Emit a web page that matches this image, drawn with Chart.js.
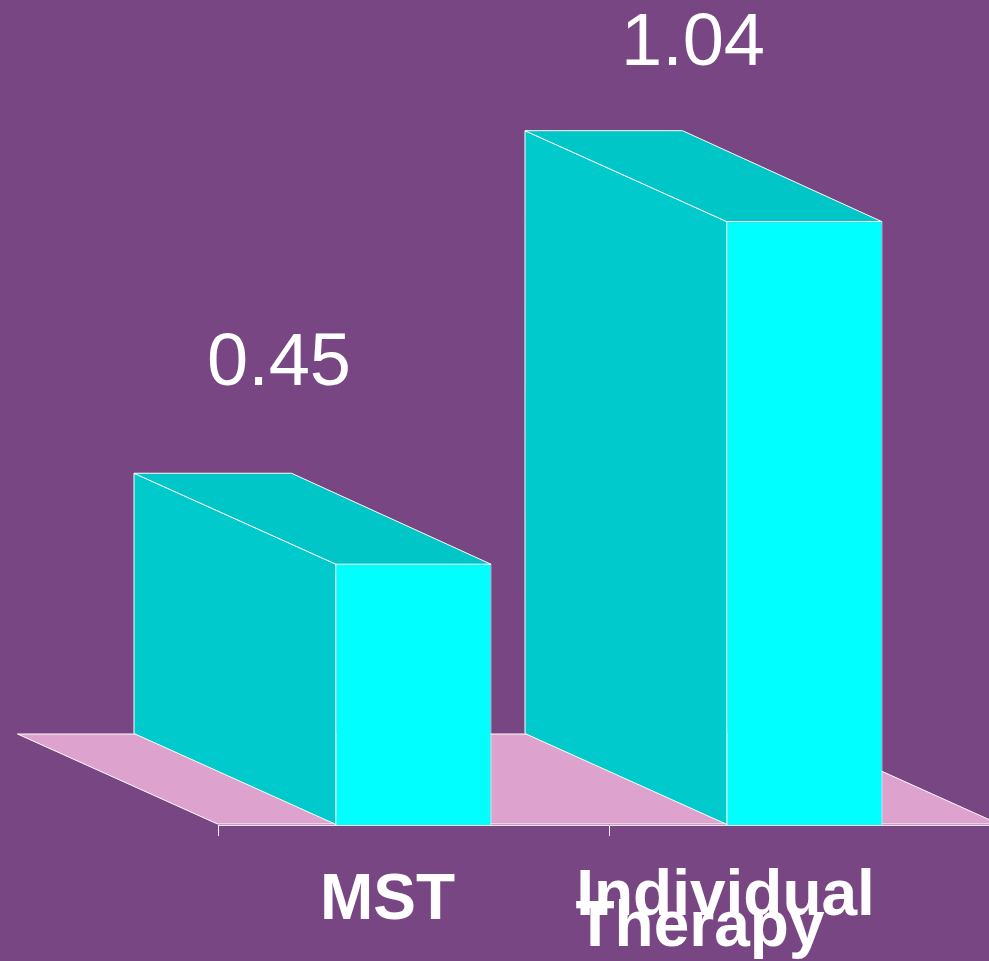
<!DOCTYPE html>
<html>
<head>
<meta charset="utf-8">
<style>
html,body{margin:0;padding:0;background:#784682;overflow:hidden}
#wrap{width:989px;height:961px;overflow:hidden}
canvas{display:block}
</style>
<script src="https://cdn.jsdelivr.net/npm/chart.js@4/dist/chart.umd.min.js"></script>
</head>
<body>
<div id="wrap"><canvas id="c" width="1000" height="961"></canvas></div>
<script>
const categories = ['MST', 'Individual Therapy'];
const effectSizes = [0.45, 1.04];
const categoryLines = [['MST'], ['Individual', 'Therapy']];

const BG = '#784682', FRONT = '#00FFFF', SIDE = '#00CACC', TOP = '#00C6C8', FLOOR = '#DDA2CE', EDGE = '#FFFFFF';
const SANS = '"Liberation Sans", Arial, sans-serif';
// oblique projection of the bars' depth
const BACK_L = {dx: -202, dy: -91}, BACK_R = {dx: -199.5, dy: -91};
const FLOOR_D = {dx: -200, dy: -90};
// label placement relative to the bar's front-top centre / baseline
const valueOffsets = [{dx: -134.5, dy: -178.5}, {dx: -111.5, dy: -156}];
const catPlacement = [[{dx: -26, y: 919}], [{dx: -79, y: 915}, {dx: -104.5, y: 946}]];

function poly(ctx, pts, fill, stroke) {
  ctx.beginPath();
  pts.forEach((p, i) => i ? ctx.lineTo(p[0], p[1]) : ctx.moveTo(p[0], p[1]));
  ctx.closePath();
  if (fill) { ctx.fillStyle = fill; ctx.fill(); }
  if (stroke) { ctx.strokeStyle = stroke; ctx.lineWidth = 1; ctx.stroke(); }
}

const box3d = {
  id: 'box3d',
  beforeDraw(chart) {
    const {ctx, width, height} = chart;
    ctx.save(); ctx.fillStyle = BG; ctx.fillRect(0, 0, width, height); ctx.restore();
  },
  beforeDatasetsDraw(chart) {
    const {ctx, chartArea: a, scales} = chart;
    const yb = scales.y.getPixelForValue(0) - 1, xl = a.left - 0.5, xr = a.right - 1;
    ctx.save();
    // floor
    poly(ctx, [[xl, yb], [xl + FLOOR_D.dx, yb + FLOOR_D.dy], [xr + FLOOR_D.dx, yb + FLOOR_D.dy], [xr, yb]], FLOOR, EDGE);
    // side and top faces
    chart.getDatasetMeta(0).data.forEach(bar => {
      const l = bar.x - bar.width / 2 + 0.5, r = bar.x + bar.width / 2 - 0.5, t = bar.y + 0.5, b = bar.base - 0.5;
      poly(ctx, [[l, t], [l + BACK_L.dx, t + BACK_L.dy], [l + BACK_L.dx, b + BACK_L.dy], [l, b]], SIDE, EDGE);
      poly(ctx, [[l, t], [l + BACK_L.dx, t + BACK_L.dy], [r + BACK_R.dx, t + BACK_R.dy], [r, t]], TOP, EDGE);
    });
    ctx.restore();
  },
  afterDraw(chart) {
    const {ctx} = chart;
    const bars = chart.getDatasetMeta(0).data;
    ctx.save();
    ctx.fillStyle = '#FFFFFF';
    ctx.textAlign = 'center';
    ctx.textBaseline = 'alphabetic';
    ctx.font = '74px ' + SANS;
    bars.forEach((bar, i) => {
      ctx.fillText(effectSizes[i].toFixed(2), bar.x + valueOffsets[i].dx, bar.y + valueOffsets[i].dy);
    });
    ctx.font = 'bold 64px ' + SANS;
    bars.forEach((bar, i) => {
      categoryLines[i].forEach((line, j) => {
        const p = catPlacement[i][j];
        ctx.fillText(line, bar.x + p.dx, p.y);
      });
    });
    ctx.restore();
  }
};

new Chart(document.getElementById('c'), {
  type: 'bar',
  plugins: [box3d],
  data: {
    labels: categories,
    datasets: [{
      data: effectSizes,
      backgroundColor: FRONT,
      borderColor: EDGE,
      borderWidth: 1,
      categoryPercentage: 1,
      barPercentage: 0.399
    }]
  },
  options: {
    responsive: false,
    animation: false,
    layout: {padding: {left: 218, right: 0, top: 0, bottom: 0}},
    plugins: {legend: {display: false}, title: {display: false}, tooltip: {enabled: false}},
    scales: {
      x: {
        type: 'category',
        afterFit(s) { s.height = 136; },
        grid: {drawOnChartArea: false, drawTicks: true, tickLength: 11, color: EDGE, lineWidth: 1, offset: true},
        border: {display: true, color: '#F3DDEE', width: 1},
        ticks: {display: false}
      },
      y: {display: false, min: 0, max: 1.421}
    }
  }
});
</script>
</body>
</html>
